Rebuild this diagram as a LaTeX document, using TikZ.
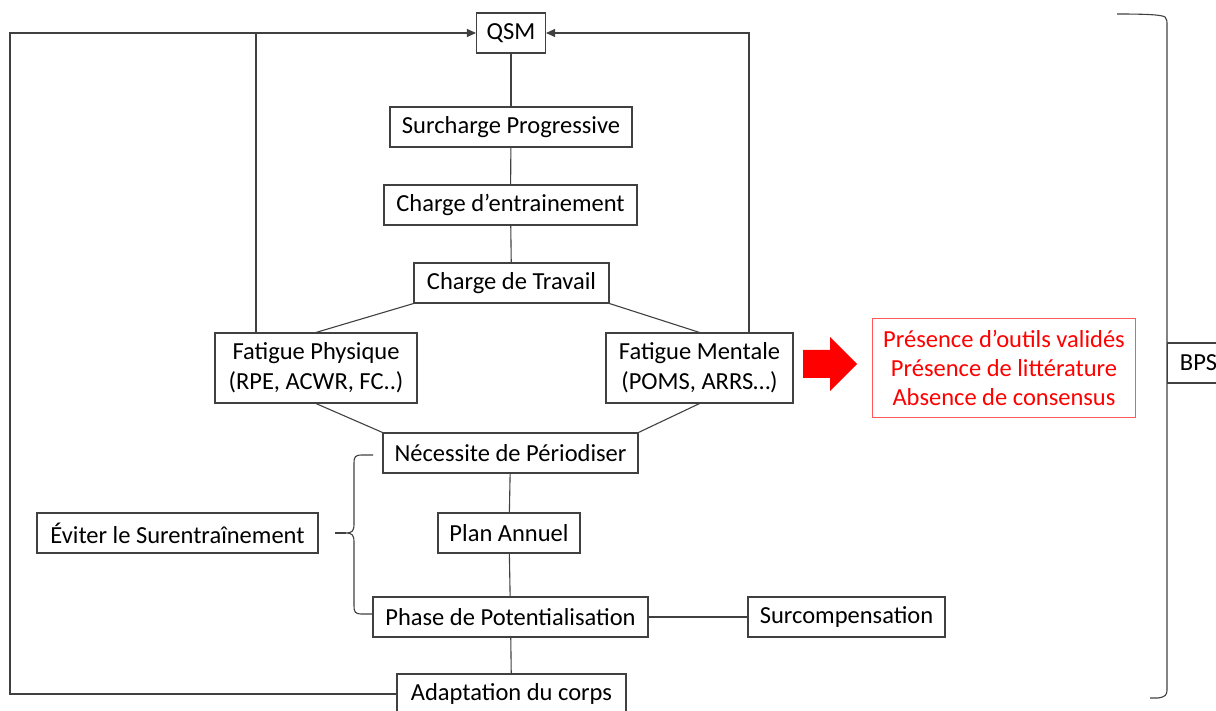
\documentclass[tikz,border=0pt]{standalone}
\usepackage{fontspec}
\setmainfont{Carlito}
\usetikzlibrary{arrows.meta}

\begin{document}
\begin{tikzpicture}[x=1pt,y=-1pt,
  box/.style={draw=black!75, line width=1.1pt, fill=white, inner sep=0pt,
    minimum height=40pt, align=center, font=\fontsize{24.5}{30}\selectfont},
  link/.style={draw=black!75, line width=1.1pt},
  tip/.style={-{Triangle[length=9pt,width=8pt]}},
  redbox/.style={box, draw=red!65, text=red, line width=1pt,
    font=\fontsize{24.5}{29}\selectfont}]

\useasboundingbox (0,0) rectangle (1216,711);

% main chain
\node[box, minimum width=69]  (qsm) at (511,33)  {QSM};
\node[box, minimum width=242] (sp)  at (511,127) {Surcharge Progressive};
\node[box, minimum width=253] (ce)  at (510.5,205) {Charge d’entrainement};
\node[box, minimum width=195] (ct)  at (511.5,283) {Charge de Travail};
\node[box, minimum width=202, minimum height=70] (fp) at (316,368)
  {Fatigue Physique\\(RPE, ACWR, FC..)};
\node[box, minimum width=187, minimum height=70] (fm) at (699.5,368)
  {Fatigue Mentale\\(POMS, ARRS…)};
\node[box, minimum width=255] (nec) at (510.5,453) {Nécessite de Périodiser};
\node[box, minimum width=142] (pa)  at (509,533) {Plan Annuel};
\node[box, minimum width=281] (ev)  at (177.5,533) {Éviter le Surentraînement};
\node[box, minimum width=275] (ph)  at (510.5,617) {Phase de Potentialisation};
\node[box, minimum width=197] (sc)  at (846.5,617) {Surcompensation};
\node[box, minimum width=229] (ad)  at (511.5,694) {Adaptation du corps};

% conclusions
\coordinate (arr) at (830,364);
\fill[red] (803,350) -- (arr |- 0,350) -- (arr |- 0,337) -- (857,364)
  -- (arr |- 0,391) -- (arr |- 0,378) -- (803,378) -- cycle;
\node[redbox, minimum width=263, minimum height=98] (rb) at (1004,368)
  {Présence d’outils validés\\Présence de littérature\\Absence de consensus};
\node[box, minimum width=62, anchor=west] (bps) at (1167,363) {BPS};

% vertical links
\draw[link] (qsm) -- (sp);
\draw[link] (sp) -- (ce);
\draw[link] (ce) -- (ct);
\draw[link] (ct.south west) -- (fp.north);
\draw[link] (ct.south east) -- (fm.north);
\draw[link] (fp.south) -- (nec.north west);
\draw[link] (fm.south) -- (nec.north east);
\draw[link] (nec) -- (pa);
\draw[link] (pa) -- (ph);
\draw[link] (ph) -- (ad);
\draw[link] (ph) -- (sc);

% feedback loops to QSM
\coordinate (lt) at (10,33);
\coordinate (lb) at (10,694);
\coordinate (rt) at (749,33);
\draw[link, tip] (ad.west) -- (lb) -- (lt) -- (qsm.west);
\draw[link] (256,0 |- fp.north) -- (256,33);
\draw[link, tip] (749,0 |- fm.north) -- (rt) -- (qsm.east);

% brace for the overtraining box
\draw[link] (373,455) -- (362,455) .. controls (355,455) and (354,457) .. (354,463)
  -- (354,524) .. controls (354,531) and (352,533) .. (346,533)
  .. controls (352,533) and (354,535) .. (354,542)
  -- (354,606) .. controls (354,612) and (355,614) .. (362,614) -- (ph.west |- 0,614);
\draw[link] (335,533) -- (346,533);

% large brace on the right
\draw[link] (1117,14) .. controls (1150,14) and (1162,15) .. (1165,17)
  .. controls (1167,19) and (1167,21) .. (1167,26) -- (1167,690)
  .. controls (1167,695) and (1165,697) .. (1158,698) -- (1150,698);

\end{tikzpicture}
\end{document}
